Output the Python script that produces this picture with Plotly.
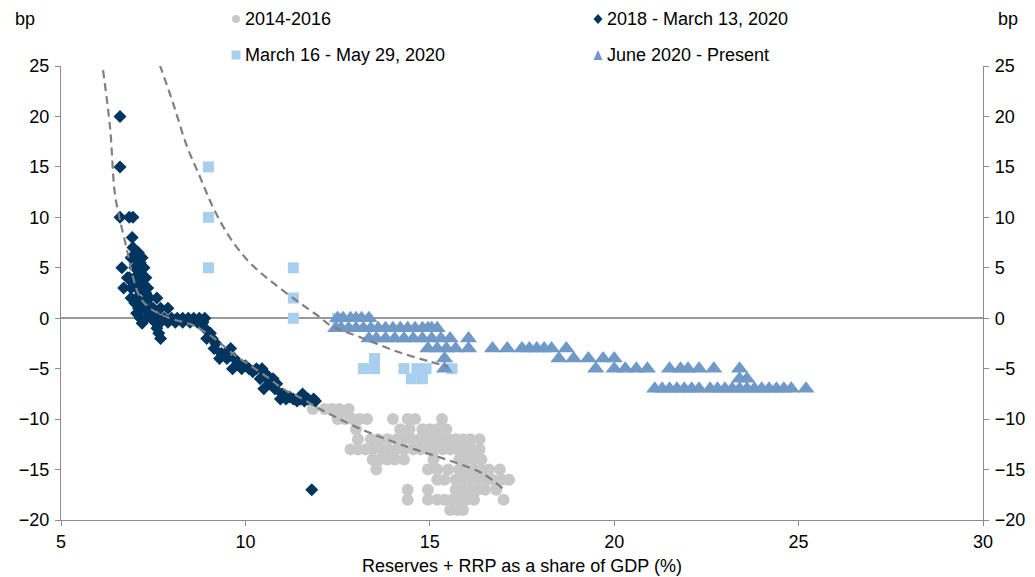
import plotly.graph_objects as go

# ---------------- data ----------------
# 2014-2016 (gray circles)
circ_x = [11.83, 12.15, 12.35, 12.55, 12.8,
          12.5, 12.7, 12.9, 13.1, 13.3, 14.0, 14.4, 14.6, 15.33,
          13.0, 14.2, 14.45, 14.8, 15.0, 15.2, 15.45,
          13.05, 13.4, 13.6, 13.85, 14.1, 14.3, 14.5, 14.7, 14.9, 15.1, 15.3, 15.5, 15.7, 15.9, 16.1, 16.35,
          12.85, 13.05, 13.25, 13.45, 13.7, 13.9, 14.1, 14.3, 14.55, 14.75, 14.95, 15.15, 15.35, 15.55, 15.75, 15.95, 16.15, 16.35,
          13.45, 13.65, 13.85, 14.05, 14.3, 15.1, 15.8, 16.0, 16.2, 16.4,
          13.55, 14.95, 15.2, 15.5, 15.8, 16.0, 16.2, 16.4, 16.6, 16.9,
          15.2, 15.4, 15.7, 15.9, 16.1, 16.3, 16.5, 16.7, 16.95, 17.15,
          14.4, 14.95, 15.7, 15.9, 16.1, 16.3, 16.5, 16.8,
          14.4, 14.95, 15.2, 15.4, 15.6, 15.8, 16.0, 16.2, 17.0,
          15.55, 15.75, 15.9]
circ_y = [-9, -9, -9, -9, -9,
          -10, -10, -10, -10, -10, -10, -10, -10, -10,
          -11, -11, -11, -11, -11, -11, -11,
          -12, -12, -12, -12, -12, -12, -12, -12, -12, -12, -12, -12, -12, -12, -12, -12,
          -13, -13, -13, -13, -13, -13, -13, -13, -13, -13, -13, -13, -13, -13, -13, -13, -13, -13,
          -14, -14, -14, -14, -14, -14, -14, -14, -14, -14,
          -15, -15, -15, -15, -15, -15, -15, -15, -15, -15,
          -16, -16, -16, -16, -16, -16, -16, -16, -16, -16,
          -17, -17, -17, -17, -17, -17, -17, -17,
          -18, -18, -18, -18, -18, -18, -18, -18, -18,
          -19, -19, -19]

# 2018 - March 13, 2020 (navy diamonds)
dia_x = [6.6, 6.6, 6.6, 6.85, 6.95,
         6.93, 6.95, 7.05, 7.2, 6.9, 7.0, 7.1, 7.0, 7.1, 7.15,
         6.65, 6.85, 7.0, 7.15, 7.25, 6.8, 6.95, 7.1, 7.2, 7.25, 7.3,
         6.7, 6.9, 7.05, 7.15, 7.3, 7.4, 7.35,
         6.9, 7.05, 7.2, 7.35, 7.6, 7.2, 7.45, 7.7, 7.9, 7.0, 7.1, 7.3, 7.5,
         7.15, 7.3, 7.45, 7.6, 7.8, 8.0, 8.15, 8.3, 8.45, 8.6, 8.75, 8.9,
         7.05, 7.4, 7.55, 7.7, 7.9, 8.1, 8.3, 8.5, 8.7, 8.85,
         7.6, 7.7, 7.65, 7.2,
         8.9, 8.95, 9.05, 9.1, 9.2, 9.15, 9.35, 9.45, 9.5, 9.6, 9.7,
         9.3, 9.65, 9.8, 9.9, 10.0, 10.1, 10.3, 10.45, 10.2, 10.55,
         10.4, 10.6, 10.75, 10.65, 10.85,
         10.5, 10.8, 11.0, 10.95, 11.1, 11.2, 11.3, 11.4, 11.5, 11.55, 11.6, 11.7, 11.85, 11.9,
         11.8]
dia_y = [20, 15, 10, 10, 10,
         8, 7, 6, 6, 6, 5, 5, 6, 6.5, 5.5,
         5, 4, 4, 4.5, 4, 4, 3.5, 3, 3.5, 5, 4,
         3, 3, 3, 3, 2.5, 2, 3,
         2, 2, 1.5, 2, 2, 1, 1, 1, 1, 1.5, 1, 1, 1,
         0, 0, 0, 0, 0, 0, 0, 0, 0, 0, 0, 0,
         0.5, 0.5, -0.4, -0.4, -0.4, -0.4, -0.4, -0.4, -0.4, -0.4,
         -1, -2, -1.5, -0.5,
         -1, -2, -1.5, -2, -2.5, -3, -3.5, -3.5, -4, -3, -4,
         -4, -5, -4.5, -5, -4.7, -5, -5, -5, -5.3, -5.5,
         -6, -6, -6, -6.5, -6.5,
         -7, -7, -7.5, -8, -8, -7.8, -8, -8.2, -8, -7.5, -8.2, -8, -8, -8.2,
         -17]

# March 16 - May 29, 2020 (light blue squares)
sq_x = [9.0, 9.0, 9.0, 11.3, 11.3, 11.3, 12.5,
        13.2, 13.5, 13.5, 14.3, 14.65, 14.9, 14.5, 14.8, 15.6]
sq_y = [15, 10, 5, 5, 2, 0, 0,
        -5, -5, -4, -5, -5, -5, -6, -6, -5]

# June 2020 - Present (blue triangles)
tri_x = [12.5, 12.65, 12.85, 13.0, 13.15, 13.35,
         12.45, 12.6, 12.8, 13.0, 13.2, 13.4, 13.6, 13.8, 14.0, 14.2, 14.4, 14.6, 14.8, 14.95, 15.05, 15.2,
         13.35, 13.55, 13.8, 14.05, 14.3, 14.55, 14.8, 15.05, 15.3, 15.55, 16.05,
         14.95, 15.2, 15.45, 15.7, 16.05, 16.7, 17.1, 17.5, 17.7, 17.9, 18.1, 18.3, 18.7,
         15.4, 18.5, 18.9, 19.3, 19.7, 20.0,
         15.4, 19.5, 20.0, 20.3, 20.6, 20.9, 21.5, 21.8, 22.0, 22.3, 22.7, 23.4,
         23.4, 23.6,
         21.1, 21.3, 21.5, 21.7, 21.9, 22.1, 22.3, 22.6, 22.8, 23.0, 23.2, 23.4, 23.6,
         23.8, 24.0, 24.2, 24.4, 24.6, 24.8, 25.2]
tri_y = [0, 0, 0, 0, 0, 0,
         -1, -1, -1, -1, -1, -1, -1, -1, -1, -1, -1, -1, -1, -1, -1, -1,
         -2, -2, -2, -2, -2, -2, -2, -2, -2, -2, -2,
         -3, -3, -3, -3, -3, -3, -3, -3, -3, -3, -3, -3, -3,
         -4, -4, -4, -4, -4, -4,
         -5, -5, -5, -5, -5, -5, -5, -5, -5, -5, -5, -5,
         -6, -6,
         -7, -7, -7, -7, -7, -7, -7, -7, -7, -7, -7, -7, -7,
         -7, -7, -7, -7, -7, -7, -7]

# Fitted trend lines
fit1_x = [6.14, 6.33, 6.46, 6.6, 6.79, 6.95, 7.14, 7.41, 7.96, 8.58, 9.12, 9.66, 10.6,
          11.0, 11.5, 12.02, 12.5, 13.2, 13.9, 14.55, 15.2, 15.8, 16.44, 16.98]
fit1_y = [24.6, 18.9, 12.4, 9.7, 6.75, 4.1, 2.1, 1.0, 0.0, -0.7, -1.9, -3.5, -5.85,
          -6.95, -7.9, -9.0, -9.9, -11.1, -12.1, -12.95, -13.7, -14.45, -15.4, -16.9]
fit2_x = [7.68, 8.04, 8.42, 8.77, 9.12, 9.58, 10.12, 10.75, 11.48, 12.02, 12.3, 13.2, 14.15, 15.0, 15.5]
fit2_y = [25.1, 21.3, 17.0, 14.0, 11.0, 8.0, 5.5, 3.5, 1.5, 0.1, -0.7, -2.0, -3.35, -4.3, -4.8]

series_names = ["2014-2016", "2018 - March 13, 2020", "March 16 - May 29, 2020", "June 2020 - Present"]
y_ticks = [-20, -15, -10, -5, 0, 5, 10, 15, 20, 25]
x_ticks = [5, 10, 15, 20, 25, 30]

# ---------------- style ----------------
C_GRAY = "#c8c8c8"
C_NAVY = "#00355f"
C_LIGHT = "#a8cfee"
C_TRI = "#7099c8"
C_LINE = "#808080"
C_AXIS = "#8c8c8c"
FONT = "Liberation Sans, Arial, sans-serif"
FS = 18

W, H = 1035, 577
L, R, T, B = 61, 52, 66, 57

fig = go.Figure()
fig.add_trace(go.Scatter(x=circ_x, y=circ_y, mode="markers", showlegend=False,
                         marker=dict(symbol="circle", size=12, color=C_GRAY)))
fig.add_trace(go.Scatter(x=dia_x, y=dia_y, mode="markers", showlegend=False,
                         marker=dict(symbol="diamond", size=10, color=C_NAVY)))
fig.add_trace(go.Scatter(x=sq_x, y=sq_y, mode="markers", showlegend=False,
                         marker=dict(symbol="square", size=11, color=C_LIGHT)))
fig.add_trace(go.Scatter(x=tri_x, y=tri_y, mode="markers", showlegend=False,
                         marker=dict(symbol="triangle-up", size=15, color=C_TRI)))
fig.add_trace(go.Scatter(x=fit1_x, y=fit1_y, mode="lines", showlegend=False,
                         line=dict(color=C_LINE, width=2.2, dash="8px,5px", shape="spline")))
fig.add_trace(go.Scatter(x=fit2_x, y=fit2_y, mode="lines", showlegend=False,
                         line=dict(color=C_LINE, width=2.2, dash="8px,5px", shape="spline")))
# invisible trace for right axis
fig.add_trace(go.Scatter(x=[None], y=[None], yaxis="y2", showlegend=False, hoverinfo="skip"))

# ---- manual legend (paper coordinates computed from pixel layout) ----
pw, ph = W - L - R, H - T - B
def px_x(p):
    return (p - L) / pw
def px_y(p):
    return (H - B - p) / ph

def path(pts):
    return "M" + " L".join(f"{px_x(a):.5f},{px_y(b):.5f}" for a, b in pts) + " Z"

leg_col = [C_GRAY, C_NAVY, C_LIGHT, C_TRI]
leg_px = [(236, 19), (598, 19), (236, 55), (598, 55)]
shapes = []
cx, cy = leg_px[0]
shapes.append(dict(type="circle", xref="paper", yref="paper", x0=px_x(cx - 4), x1=px_x(cx + 4),
                   y0=px_y(cy + 4), y1=px_y(cy - 4), fillcolor=leg_col[0], line=dict(width=0)))
cx, cy = leg_px[1]
shapes.append(dict(type="path", xref="paper", yref="paper",
                   path=path([(cx, cy - 5), (cx + 4.5, cy), (cx, cy + 5), (cx - 4.5, cy)]),
                   fillcolor=leg_col[1], line=dict(width=0)))
cx, cy = leg_px[2]
shapes.append(dict(type="rect", xref="paper", yref="paper", x0=px_x(cx - 4.5), x1=px_x(cx + 4.5),
                   y0=px_y(cy + 4.5), y1=px_y(cy - 4.5), fillcolor=leg_col[2], line=dict(width=0)))
cx, cy = leg_px[3]
shapes.append(dict(type="path", xref="paper", yref="paper",
                   path=path([(cx - 4.5, cy + 5), (cx + 4.5, cy + 5), (cx, cy - 5)]),
                   fillcolor=leg_col[3], line=dict(width=0)))

for i in range(4):
    fig.add_annotation(x=px_x(leg_px[i][0] + 7), y=px_y(leg_px[i][1]), xref="paper", yref="paper",
                       text=series_names[i], showarrow=False, xanchor="left", yanchor="middle",
                       font=dict(size=FS, color="#000000", family=FONT))

fig.add_annotation(x=px_x(25), y=px_y(19), xref="paper", yref="paper", text="bp", showarrow=False,
                   xanchor="center", yanchor="middle", font=dict(size=FS, color="#000000", family=FONT))
fig.add_annotation(x=px_x(1008), y=px_y(19), xref="paper", yref="paper", text="bp", showarrow=False,
                   xanchor="center", yanchor="middle", font=dict(size=FS, color="#000000", family=FONT))

axis_common = dict(showgrid=False, showline=True, linecolor=C_AXIS, linewidth=1.3,
                   ticks="outside", ticklen=5, tickcolor=C_AXIS, tickwidth=1.3, automargin=False,
                   tickfont=dict(size=FS, color="#000000", family=FONT))

fig.update_layout(
    width=W, height=H,
    margin=dict(l=L, r=R, t=T, b=B, pad=0, autoexpand=False),
    paper_bgcolor="white", plot_bgcolor="white",
    font=dict(family=FONT, size=FS, color="#000000"),
    showlegend=False,
    shapes=shapes,
    xaxis=dict(range=[5, 30], tickvals=x_ticks, zeroline=False,
               title=dict(text="Reserves + RRP as a share of GDP (%)", standoff=8,
                          font=dict(size=FS, color="#000000", family=FONT)),
               **axis_common),
    yaxis=dict(range=[-20, 25], tickvals=y_ticks, zeroline=True, zerolinecolor="#999999",
               zerolinewidth=1.8, ticklabelstandoff=2, **axis_common),
    yaxis2=dict(range=[-20, 25], tickvals=y_ticks, overlaying="y", side="right", zeroline=False,
                ticklabelstandoff=2, **axis_common),
)

fig.write_html("out.html")
